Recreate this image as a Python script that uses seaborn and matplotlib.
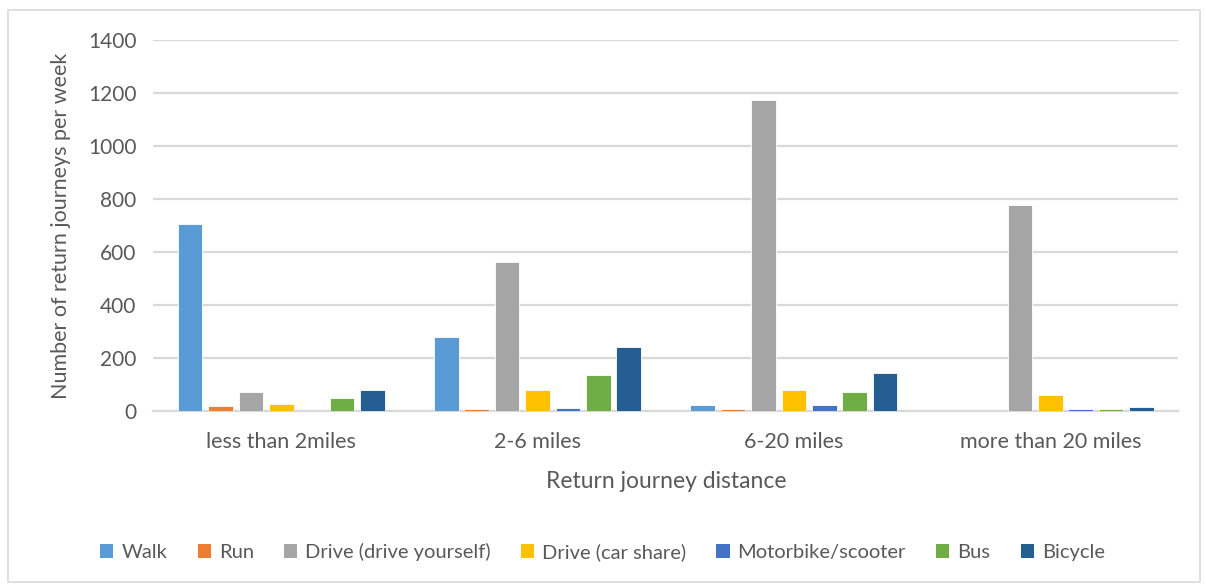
import matplotlib
matplotlib.use("Agg")
import matplotlib.pyplot as plt
import seaborn as sns
import pandas as pd
from matplotlib.patches import Rectangle, Patch

# Journey counts per week, by distance band and mode of transport
distances = ["less than 2miles", "2-6 miles", "6-20 miles", "more than 20 miles"]
modes = ["Walk", "Run", "Drive (drive yourself)", "Drive (car share)",
         "Motorbike/scooter", "Bus", "Bicycle"]
walk = [705, 280, 22, 0]
run = [20, 7, 6, 0]
drive_self = [73, 562, 1172, 777]
drive_share = [25, 80, 80, 60]
motorbike = [0, 12, 22, 6]
bus = [49, 135, 70, 6]
bicycle = [78, 240, 145, 16]
colors = ["#5B9BD5", "#ED7D31", "#A5A5A5", "#FFC000", "#4472C4", "#70AD47", "#255E91"]

series = [walk, run, drive_self, drive_share, motorbike, bus, bicycle]
df = pd.DataFrame(
    [(d, m, v[i]) for m, v in zip(modes, series) for i, d in enumerate(distances)],
    columns=["distance", "mode", "journeys"],
)

sns.set_theme(style="white")
plt.rcParams["font.family"] = ["Lato", "DejaVu Sans"]
text_color = "#595959"
grid_color = "#D9D9D9"

fig = plt.figure(figsize=(12.05, 5.85), dpi=100)
ax = fig.add_axes([0.127, 0.2974, 0.851, 0.6342])

sns.barplot(data=df, x="distance", y="journeys", hue="mode", hue_order=modes,
            order=distances, palette=colors, saturation=1, width=0.83, gap=0.19,
            edgecolor="white", linewidth=0.6, ax=ax, legend=False, zorder=3)

ax.set_ylim(0, 1400)
ax.set_yticks(range(0, 1401, 200))
ax.yaxis.grid(True, color=grid_color, linewidth=1.6, zorder=0)
ax.set_axisbelow(True)
for side in ["top", "right", "left"]:
    ax.spines[side].set_visible(False)
ax.spines["bottom"].set_color(grid_color)
ax.spines["bottom"].set_linewidth(1.6)
ax.tick_params(axis="y", length=0, labelsize=15, colors=text_color, pad=12)
ax.tick_params(axis="x", length=0, labelsize=15.5, colors=text_color, pad=15)

ax.set_xlabel("Return journey distance", fontsize=16.5, color=text_color, labelpad=14)
ax.set_ylabel("Number of return journeys per week", fontsize=15.5, color=text_color, labelpad=12)

handles = [Patch(facecolor=c, edgecolor="none") for c in colors]
fig.legend(handles, modes, loc="center", bbox_to_anchor=(0.5, 1 - 552 / 585),
           ncol=7, frameon=False, fontsize=14.5, labelcolor=text_color,
           handlelength=0.65, handleheight=0.65, handletextpad=0.4, columnspacing=1.5)

# Chart-area border
fig.patches.append(Rectangle((8 / 1205, 3 / 585), 1192 / 1205, 572 / 585,
                             transform=fig.transFigure, fill=False,
                             edgecolor=grid_color, linewidth=1.2))

fig.savefig("out.png", dpi=100, facecolor="white")
